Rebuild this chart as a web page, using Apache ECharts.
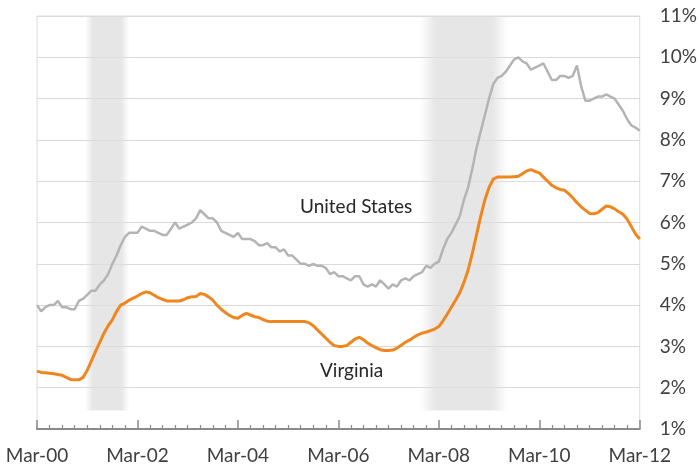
<!DOCTYPE html>
<html>
<head>
<meta charset="utf-8">
<script src="https://cdn.jsdelivr.net/npm/echarts@6/dist/echarts.min.js"></script>
<style>
  html, body { margin: 0; padding: 0; background: #fff; }
  #chart { width: 700px; height: 467px; }
</style>
</head>
<body>
<div id="chart"></div>
<script>
// Monthly unemployment rate (%), March 2000 through March 2012
const months = 145;
const tickLabels = ['Mar-00', 'Mar-02', 'Mar-04', 'Mar-06', 'Mar-08', 'Mar-10', 'Mar-12'];

const usRate = [
  4.0, 3.85, 3.95, 4.0, 4.0, 4.1, 3.95, 3.95, 3.9, 3.9, 4.1, 4.15,
  4.25, 4.35, 4.35, 4.5, 4.6, 4.75, 5.0, 5.2, 5.45, 5.65, 5.75, 5.75,
  5.75, 5.9, 5.85, 5.8, 5.8, 5.75, 5.7, 5.7, 5.85, 6.0, 5.85, 5.9,
  5.95, 6.0, 6.1, 6.3, 6.2, 6.1, 6.1, 6.0, 5.8, 5.75, 5.7, 5.65,
  5.75, 5.6, 5.6, 5.6, 5.55, 5.45, 5.45, 5.5, 5.4, 5.4, 5.3, 5.35,
  5.2, 5.2, 5.1, 5.0, 5.0, 4.95, 5.0, 4.95, 4.95, 4.9, 4.75, 4.8,
  4.7, 4.7, 4.65, 4.6, 4.7, 4.7, 4.5, 4.45, 4.5, 4.45, 4.6, 4.5,
  4.4, 4.5, 4.45, 4.6, 4.65, 4.6, 4.7, 4.75, 4.8, 4.95, 4.9, 5.0,
  5.05, 5.35, 5.6, 5.75, 5.95, 6.15, 6.55, 6.85, 7.3, 7.8, 8.2, 8.6,
  9.0, 9.35, 9.5, 9.55, 9.65, 9.8, 9.95, 10.0, 9.9, 9.85, 9.7, 9.75,
  9.8, 9.85, 9.65, 9.45, 9.45, 9.55, 9.55, 9.5, 9.55, 9.8, 9.3, 8.95,
  8.95, 9.0, 9.05, 9.05, 9.1, 9.05, 9.0, 8.85, 8.7, 8.5, 8.35, 8.3,
  8.22
];

const vaRate = [
  2.40, 2.37, 2.36, 2.35, 2.34, 2.32, 2.30, 2.25, 2.20, 2.19, 2.19, 2.25,
  2.42, 2.65, 2.88, 3.10, 3.32, 3.50, 3.64, 3.85, 4.00, 4.05, 4.12, 4.17,
  4.22, 4.28, 4.32, 4.30, 4.24, 4.18, 4.14, 4.10, 4.10, 4.10, 4.10, 4.13,
  4.18, 4.20, 4.21, 4.28, 4.26, 4.20, 4.12, 4.00, 3.90, 3.82, 3.75, 3.70,
  3.68, 3.75, 3.80, 3.76, 3.72, 3.70, 3.65, 3.61, 3.60, 3.60, 3.60, 3.60,
  3.60, 3.60, 3.60, 3.60, 3.60, 3.57, 3.50, 3.40, 3.30, 3.20, 3.10, 3.02,
  3.00, 3.00, 3.02, 3.10, 3.18, 3.22, 3.16, 3.08, 3.02, 2.97, 2.92, 2.90,
  2.90, 2.91, 2.96, 3.03, 3.10, 3.15, 3.22, 3.28, 3.32, 3.35, 3.38, 3.42,
  3.48, 3.62, 3.78, 3.95, 4.12, 4.30, 4.55, 4.85, 5.25, 5.70, 6.15, 6.55,
  6.85, 7.05, 7.10, 7.10, 7.10, 7.10, 7.11, 7.12, 7.18, 7.25, 7.28, 7.24,
  7.20, 7.10, 7.00, 6.90, 6.84, 6.80, 6.78, 6.70, 6.60, 6.48, 6.38, 6.30,
  6.22, 6.21, 6.24, 6.32, 6.40, 6.38, 6.33, 6.26, 6.20, 6.08, 5.90, 5.72,
  5.60
];

// Recessions, as month offsets from March 2000 (soft-edged shading)
const recessions = [[11.5, 22], [91.5, 112.5]];

const FONT = 'Lato';
const toPairs = arr => arr.map((v, i) => [i, v]);

// horizontal fade at both edges of a shaded band
const bandFill = new echarts.graphic.LinearGradient(0, 0, 1, 0, [
  { offset: 0, color: 'rgba(222,222,222,0)' },
  { offset: 0.18, color: 'rgba(222,222,222,0.75)' },
  { offset: 0.82, color: 'rgba(222,222,222,0.75)' },
  { offset: 1, color: 'rgba(222,222,222,0)' }
]);

const chart = echarts.init(document.getElementById('chart'), null, { renderer: 'canvas' });

chart.setOption({
  animation: false,
  backgroundColor: '#ffffff',
  grid: {
    left: 37, right: 59, top: 16, bottom: 38,
    show: true, borderColor: '#dcdcdc', borderWidth: 1
  },
  xAxis: {
    type: 'value',
    min: 0, max: months - 1, interval: 24,
    axisLine: { show: true, lineStyle: { color: '#8a8a8a', width: 2 } },
    axisTick: { show: true, inside: true, length: 9, lineStyle: { color: '#8a8a8a', width: 1.5 } },
    minorTick: { show: true, splitNumber: 8, length: 4, lineStyle: { color: '#8a8a8a', width: 1.2 } },
    splitLine: { show: false },
    axisLabel: {
      margin: 17,
      color: '#404040', fontFamily: FONT, fontSize: 19,
      formatter: v => tickLabels[Math.round(v / 24)] || ''
    }
  },
  yAxis: {
    type: 'value',
    position: 'right',
    min: 1, max: 11, interval: 1,
    axisLine: { show: false },
    axisTick: { show: false },
    splitLine: { show: true, lineStyle: { color: '#d9d9d9', width: 1.2 } },
    axisLabel: {
      margin: 20,
      color: '#404040', fontFamily: FONT, fontSize: 19,
      formatter: '{value}%'
    }
  },
  graphic: [
    {
      type: 'text', left: 300, top: 197, z: 10,
      style: { text: 'United States', fill: '#262626', font: '19px Lato' }
    },
    {
      type: 'text', left: 320, top: 361, z: 10,
      style: { text: 'Virginia', fill: '#262626', font: '19px Lato' }
    }
  ],
  series: [
    {
      name: 'United States',
      type: 'line',
      data: toPairs(usRate),
      showSymbol: false,
      lineStyle: { color: '#b4b4b4', width: 2.5 },
      z: 3,
      markArea: {
        silent: true,
        itemStyle: { color: bandFill },
        data: recessions.map(r => [
          { coord: [r[0], 1.45] },
          { coord: [r[1], 11] }
        ])
      }
    },
    {
      name: 'Virginia',
      type: 'line',
      data: toPairs(vaRate),
      showSymbol: false,
      lineStyle: { color: '#f0861e', width: 3 },
      z: 4
    }
  ]
});
</script>
</body>
</html>
